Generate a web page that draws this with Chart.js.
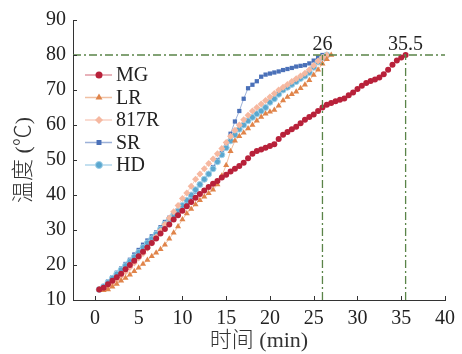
<!DOCTYPE html>
<html>
<head>
<meta charset="utf-8">
<script src="https://cdn.jsdelivr.net/npm/chart.js@4/dist/chart.umd.min.js"></script>
<style>
  html, body { margin: 0; padding: 0; background: #fff; }
  #wrap { width: 462px; height: 354px; }
</style>
</head>
<body>
<div id="wrap"><canvas id="chart" width="462" height="354"></canvas></div>
<script>
// Temperature vs time
const time = [0.5, 1, 1.5, 2, 2.5, 3, 3.5, 4, 4.5, 5, 5.5, 6, 6.5, 7, 7.5, 8, 8.5, 9, 9.5, 10,
    10.5, 11, 11.5, 12, 12.5, 13, 13.5, 14, 14.5, 15, 15.5, 16, 16.5, 17, 17.5, 18, 18.5, 19, 19.5, 20,
    20.5, 21, 21.5, 22, 22.5, 23, 23.5, 24, 24.5, 25, 25.5, 26, 26.5, 27, 27.5, 28, 28.5, 29, 29.5, 30,
    30.5, 31, 31.5, 32, 32.5, 33, 33.5, 34, 34.5, 35, 35.5];

const mgTemp = [13, 13.5, 14.5, 15.5, 16.5, 17.5, 18.8, 20, 21.2, 22.5, 23.8, 25, 26.3, 27.6, 29, 30.3, 31.6, 33, 34.2, 35.5,
    36.8, 38, 39.2, 40.3, 41.3, 42.3, 43.2, 44, 45, 45.8, 46.7, 47.5, 48.3, 49.2, 50.5, 51.8, 52.6, 53, 53.5, 54,
    54.5, 56, 57.2, 58, 58.8, 59.5, 60.5, 61.5, 62.3, 63, 64, 65, 65.8, 66.3, 66.8, 67.2, 67.6, 68.5, 69.3, 70.3,
    71.2, 72, 72.6, 73, 73.6, 74.5, 75.8, 77.2, 78.4, 79.3, 80];

const lrTemp = [13, 12.8, 13, 13.8, 14.6, 15.5, 16.3, 17.2, 18.2, 19.2, 20.3, 21.4, 22.5, 23.5, 24.5, 25.8, 27.5, 29.2, 31, 33,
    34.7, 36, 37.3, 38.5, 39.5, 40.5, 41.5, 43, 45.5, 48.5, 52.5, 55.5, 56.8, 57.8, 59, 60, 61.2, 62.3, 63.2, 63.8,
    64.3, 65.5, 67, 68, 68.8, 69.5, 70.5, 71.5, 72.8, 74.3, 75.8, 77.5, 78.8, 80];

const r817Temp = [13, 13.3, 14, 14.8, 15.8, 16.8, 18, 19.3, 20.6, 22, 23.3, 24.8, 26.3, 28, 29.8, 31.6, 33.4, 35.2, 37, 39,
    40.6, 42.5, 44.5, 46, 47.5, 49, 50.3, 51.8, 53.3, 55, 56.8, 58.5, 60, 61.5, 62.8, 64, 65, 66, 67, 68,
    69, 70, 70.8, 71.6, 72.4, 73.2, 74, 74.8, 75.8, 77, 78.3, 79.3, 80];

const srTemp = [13, 14, 15.3, 16.5, 17.8, 19, 20.3, 21.5, 23, 24.3, 25.8, 27, 28.2, 29.3, 30.8, 32.3, 33.5, 34.7, 35.6, 36.8,
    38, 39.5, 41, 43, 44.5, 46, 48, 50, 52, 54.5, 57.5, 61, 64, 67.5, 70.5, 71.5, 72.5, 73.8, 74.4, 74.7,
    75, 75.3, 75.7, 76, 76.3, 76.7, 76.9, 77.1, 77.6, 78.4, 79.3, 80];

const hdTemp = [13, 13.8, 15, 16.2, 17.4, 18.6, 19.8, 21, 22.3, 23.6, 25, 26.3, 27.5, 28.8, 30.2, 31.7, 33, 34.3, 35.5, 37,
    38.5, 40, 41.5, 43, 44.5, 46, 47.5, 49.5, 51.5, 53.5, 55.5, 57.2, 58.8, 60, 61.2, 62.2, 63.2, 64, 65, 66.5,
    67.5, 68.8, 70, 70.8, 71.6, 72.4, 73.3, 74, 75, 76.5, 78, 79.2, 80];

const seriesNames = ['MG', 'LR', '817R', 'SR', 'HD'];
const xTicks = [0, 5, 10, 15, 20, 25, 30, 35, 40];
const yTicks = [10, 20, 30, 40, 50, 60, 70, 80, 90];

// dash-dot guide lines: 80 °C level and the two finishing times
const targetTemp = 80;
const finishTimes = [26, 35.5];
const finishLabels = ['26', '35.5'];

const FONT = "'Liberation Serif', 'Times New Roman', 'Noto Sans CJK SC', serif";
const GUIDE = '#5a8448';

const styles = {
    MG:   { color: '#b8213a', line: 'rgba(200,70,90,0.55)',  shape: 'circle',  r: 3 },
    LR:   { color: '#e0844a', line: 'rgba(232,150,100,0.6)', shape: 'triangle', r: 3.5 },
    '817R': { color: '#f6b8a0', line: 'rgba(246,190,170,0.7)', shape: 'rectRot', r: 3.5 },
    SR:   { color: '#4a70b8', line: 'rgba(90,125,190,0.6)',  shape: 'rect',    r: 3 },
    HD:   { color: '#5aa7cf', line: 'rgba(120,185,220,0.6)', shape: 'circle',  r: 3 }
};

function pts(ys) {
    return ys.map((y, i) => ({ x: time[i], y }));
}

function series(name, ys) {
    const s = styles[name];
    return {
        label: name,
        data: pts(ys),
        borderColor: s.line,
        borderWidth: 1,
        backgroundColor: s.color,
        pointBackgroundColor: s.color,
        pointBorderColor: name === 'HD' ? '#9fd0e8' : s.color,
        pointBorderWidth: name === 'HD' ? 1 : 0,
        pointStyle: s.shape,
        pointRadius: s.r,
        tension: 0
    };
}

function guide(data) {
    return {
        label: '',
        data,
        borderColor: GUIDE,
        borderWidth: 1.3,
        borderDash: [8, 3, 2, 3],
        pointRadius: 0
    };
}

// Custom legend inside the plot, plus inward ticks and guide labels
const extras = {
    id: 'extras',
    afterDraw(chart) {
        const ctx = chart.ctx;
        const xs = chart.scales.x, ys = chart.scales.y;
        const a = chart.chartArea;
        ctx.save();

        // inward ticks
        ctx.strokeStyle = '#333';
        ctx.lineWidth = 1;
        xTicks.forEach(v => {
            const px = Math.round(xs.getPixelForValue(v)) + 0.5;
            ctx.beginPath();
            ctx.moveTo(px, a.bottom);
            ctx.lineTo(px, a.bottom - 4);
            ctx.stroke();
        });
        yTicks.forEach(v => {
            const py = Math.round(ys.getPixelForValue(v)) + 0.5;
            ctx.beginPath();
            ctx.moveTo(a.left, py);
            ctx.lineTo(a.left + 4, py);
            ctx.stroke();
        });

        // labels above guide lines
        ctx.fillStyle = '#222';
        ctx.font = '20px ' + FONT;
        ctx.textAlign = 'center';
        ctx.textBaseline = 'alphabetic';
        finishTimes.forEach((t, i) => {
            ctx.fillText(finishLabels[i], xs.getPixelForValue(t), ys.getPixelForValue(targetTemp) - 5);
        });

        // legend
        const lx = 85, ly = 75, gap = 22.5;
        seriesNames.forEach((name, i) => {
            const s = styles[name];
            const y = ly + i * gap;
            ctx.strokeStyle = s.line;
            ctx.lineWidth = 1.5;
            ctx.beginPath();
            ctx.moveTo(lx, y);
            ctx.lineTo(lx + 27, y);
            ctx.stroke();
            ctx.fillStyle = s.color;
            ctx.strokeStyle = name === 'HD' ? '#9fd0e8' : s.color;
            ctx.lineWidth = name === 'HD' ? 1 : 0.01;
            Chart.helpers.drawPoint(ctx, {
                pointStyle: s.shape,
                radius: s.r + 0.5,
                borderWidth: name === 'HD' ? 1 : 0,
                rotation: 0
            }, lx + 14, y);
            ctx.fillStyle = '#222';
            ctx.font = '20px ' + FONT;
            ctx.textAlign = 'left';
            ctx.textBaseline = 'middle';
            ctx.fillText(name, lx + 31, y + 1);
        });
        ctx.restore();
    }
};

new Chart(document.getElementById('chart'), {
    type: 'line',
    data: {
        datasets: [
            guide([{ x: -2.5, y: targetTemp }, { x: 40, y: targetTemp }]),
            guide([{ x: finishTimes[0], y: 10 }, { x: finishTimes[0], y: targetTemp }]),
            guide([{ x: finishTimes[1], y: 10 }, { x: finishTimes[1], y: targetTemp }]),
            series('MG', mgTemp),
            series('LR', lrTemp),
            series('817R', r817Temp),
            series('HD', hdTemp),
            series('SR', srTemp)
        ]
    },
    options: {
        responsive: false,
        animation: false,
        layout: { padding: { top: 20, right: 10, left: 11, bottom: 0 } },
        plugins: {
            legend: { display: false },
            tooltip: { enabled: false }
        },
        scales: {
            x: {
                type: 'linear',
                min: -2.5,
                max: 40,
                afterBuildTicks: s => { s.ticks = xTicks.map(v => ({ value: v })); },
                afterFit: s => { s.height = 54; },
                grid: { display: false, drawTicks: false },
                border: { display: true, color: '#333', width: 1 },
                ticks: { color: '#222', font: { family: FONT, size: 20 }, padding: 7, maxRotation: 0 },
                title: { display: true, text: '时间 (min)', color: '#333', font: { family: FONT, size: 22, weight: '300' }, padding: { top: 0, bottom: 0 } }
            },
            y: {
                type: 'linear',
                min: 10,
                max: 90,
                afterBuildTicks: s => { s.ticks = yTicks.map(v => ({ value: v })); },
                afterFit: s => { s.width = 62; },
                grid: { display: false, drawTicks: false },
                border: { display: true, color: '#333', width: 1 },
                ticks: { color: '#222', font: { family: FONT, size: 20 }, padding: 7 },
                title: { display: true, text: '温度 (℃)', color: '#333', font: { family: FONT, size: 22, weight: '300' }, padding: { top: 0, bottom: 0 } }
            }
        }
    },
    plugins: [extras]
});
</script>
</body>
</html>
